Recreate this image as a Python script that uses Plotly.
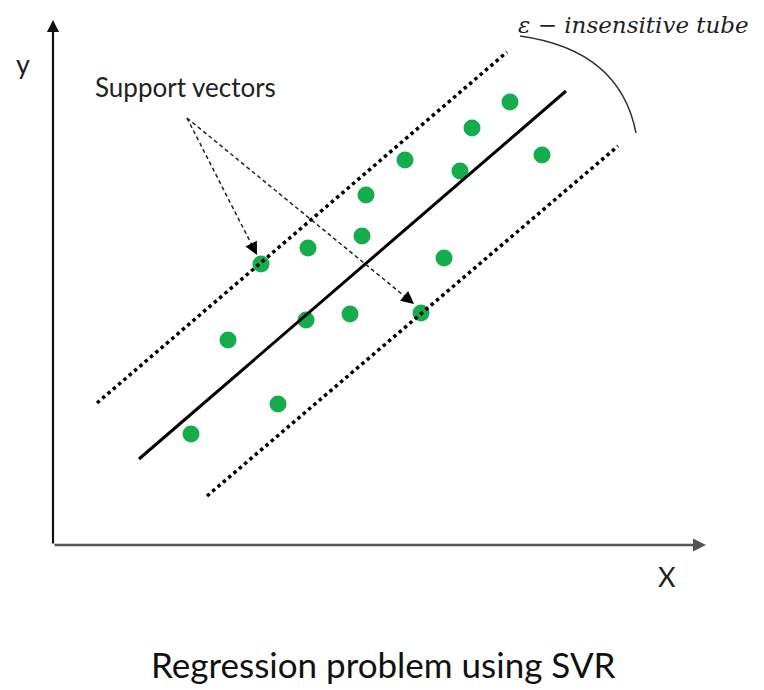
import plotly.graph_objects as go

# data points (diagram units, origin at the axis corner)
pts_x = [138, 175, 225, 208, 255, 253, 297, 309, 313, 352, 368, 391, 407, 419, 457, 489]
pts_y = [111, 205, 141, 281, 297, 225, 231, 309, 350, 385, 232, 287, 374, 417, 443, 390]

# regression line and epsilon tube edges
reg_x = [86, 513]
reg_y = [86, 454]
upper_x = [44, 454]
upper_y = [142, 493]
lower_x = [154, 565]
lower_y = [49, 399]

# support-vector callout: label anchor and the two targets
sv_start = (134, 427)
sv_targets = [(204, 290), (361, 241)]

GREEN = "#13ad4b"
fig = go.Figure()

fig.add_trace(go.Scatter(x=pts_x, y=pts_y, mode="markers",
                         marker=dict(size=17, color=GREEN, line=dict(width=0))))

fig.add_trace(go.Scatter(x=reg_x, y=reg_y, mode="lines",
                         line=dict(color="black", width=3)))
for lx, ly in [(upper_x, upper_y), (lower_x, lower_y)]:
    fig.add_trace(go.Scatter(x=lx, y=ly, mode="lines",
                             line=dict(color="black", width=3.5, dash="dot")))

# dashed callout lines with arrowheads
for tx, ty in sv_targets:
    fig.add_trace(go.Scatter(x=[sv_start[0], tx], y=[sv_start[1], ty], mode="lines",
                             line=dict(color="#222", width=1.5, dash="4px,3px")))
    dx, dy = tx - sv_start[0], ty - sv_start[1]
    n = (dx ** 2 + dy ** 2) ** 0.5
    fig.add_annotation(x=tx, y=ty, ax=tx - dx / n * 14, ay=ty - dy / n * 14,
                       xref="x", yref="y", axref="x", ayref="y", text="",
                       showarrow=True, arrowhead=2, arrowsize=1.7, arrowwidth=1.5,
                       arrowcolor="black")

# axes drawn as arrows
fig.add_annotation(x=0, y=525, ax=0, ay=0, xref="x", yref="y", axref="x", ayref="y",
                   text="", showarrow=True, arrowhead=2, arrowsize=1.1, arrowwidth=2.2,
                   arrowcolor="#111")
fig.add_annotation(x=653, y=0, ax=0, ay=0, xref="x", yref="y", axref="x", ayref="y",
                   text="", showarrow=True, arrowhead=2, arrowsize=1.0, arrowwidth=2.6,
                   arrowcolor="#555")

# epsilon tube arc
fig.add_shape(type="path", path="M 467,509 Q 567,495 583,412",
              line=dict(color="#333", width=1.5), xref="x", yref="y")

font = "Lato, 'Open Sans', sans-serif"
fig.add_annotation(x=-30, y=482, text="y", showarrow=False,
                   font=dict(family=font, size=27, color="#222"))
fig.add_annotation(x=614, y=-31, text="X", showarrow=False,
                   font=dict(family=font, size=27, color="#222"))
fig.add_annotation(x=132, y=458, text="Support vectors", showarrow=False,
                   font=dict(family=font, size=26, color="#222"))
fig.add_annotation(x=580, y=520, text="<i>ε − insensitive tube</i>", showarrow=False,
                   font=dict(family="'DejaVu Serif', serif", size=23, color="#222"))
fig.add_annotation(x=330, y=-119, text="Regression problem using SVR", showarrow=False,
                   font=dict(family=font, size=35, color="#111"))

# page body has an 8px margin, so the plot is shifted to keep 1 unit = 1 px
fig.update_xaxes(range=[-45, 711], visible=False)
fig.update_yaxes(range=[-145, 537], visible=False)
fig.update_layout(width=756, height=682, margin=dict(l=0, r=0, t=0, b=0),
                  plot_bgcolor="white", paper_bgcolor="white", showlegend=False)

fig.write_html("out.html")
